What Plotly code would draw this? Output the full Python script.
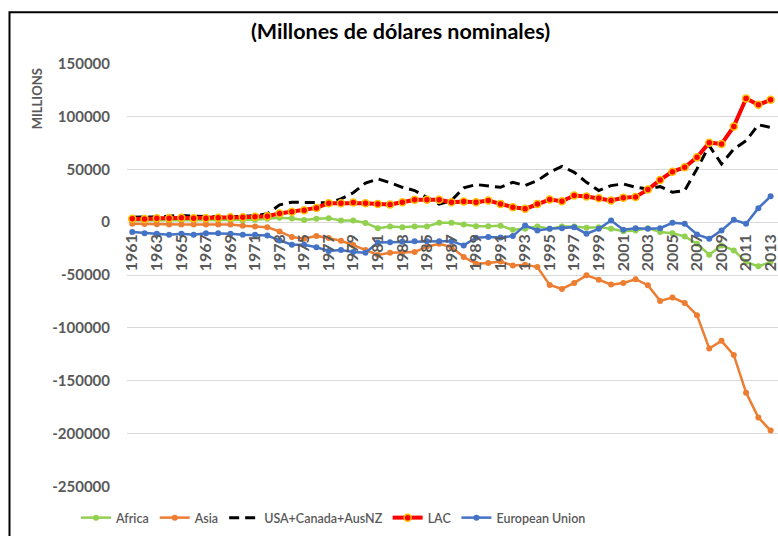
import plotly.graph_objects as go

years = list(range(1961, 2014))
tick_years = years[::2]
tick_labels = [str(y) for y in tick_years]
y_ticks = [150000, 100000, 50000, 0, -50000, -100000, -150000, -200000, -250000]
y_tick_labels = [str(v) for v in y_ticks]

africa = [1600, 1600, 1600, 1600, 1600, 1600, 1600, 1600, 1600, 1900,
          2200, 3200, 4100, 3500, 2000, 3200, 3800, 1600, 1600, -700,
          -5700, -4000, -4700, -4100, -4100, -600, -600, -2200, -3800, -3800,
          -3300, -7200, -6300, -4100, -6300, -4100, -4100, -5300, -4700, -6300,
          -8500, -7800, -5700, -9400, -10400, -13500, -20400, -30800, -22000, -26700,
          -37700, -41800, -37700]
asia = [-1500, -1800, -2000, -2200, -2200, -2200, -2200, -2200, -2200, -3500,
        -4100, -4700, -8800, -14100, -15700, -13000, -15100, -17600, -21700, -26400,
        -31000, -29000, -28700, -28300, -23200, -20500, -23600, -33000, -39300, -38700,
        -37200, -40900, -40200, -42500, -59400, -63200, -57500, -50300, -54400, -59100,
        -57500, -54000, -59700, -74500, -71300, -76400, -88000, -119500, -112300, -125800,
        -161300, -184900, -197200]
usa = [4700, 4700, 5000, 5700, 6300, 5700, 5000, 5000, 5000, 5500,
       6000, 7900, 16400, 18900, 18900, 18300, 18300, 22000, 27800, 37000,
       40900, 37400, 33000, 29900, 23600, 17000, 20500, 32400, 35600, 34600,
       33000, 37700, 34600, 39300, 47200, 52800, 47200, 37700, 29900, 34600,
       36200, 33000, 31500, 33700, 28300, 29900, 50400, 72400, 55100, 69200,
       77100, 92200, 89600]
lac = [3200, 2900, 3800, 3800, 4100, 3800, 3800, 4100, 4700, 4700,
       5100, 5700, 8200, 9800, 11300, 13500, 17900, 17900, 18600, 17900,
       17300, 16700, 18900, 21100, 21100, 21100, 18900, 19500, 18900, 20400,
       17300, 14200, 12600, 17300, 21400, 19800, 25200, 24200, 22700, 20500,
       23000, 23900, 30800, 40000, 47800, 51900, 61300, 75200, 74000, 90600,
       117000, 111000, 115800]
eu = [-9400, -10400, -11000, -11900, -11000, -11900, -10400, -10400, -11000, -11900,
      -11900, -12600, -17300, -21400, -21400, -23700, -27200, -26400, -28300, -29000,
      -19200, -18900, -18500, -18000, -18000, -18000, -18000, -22000, -14700, -14100,
      -14400, -13200, -3100, -7800, -6300, -5700, -4700, -11000, -6300, 1600,
      -7200, -5700, -6300, -5700, -600, -1500, -11600, -15700, -7800, 2200,
      -1500, 13200, 24500]

FONT = "Lato, 'Open Sans', sans-serif"
GRAY = "#595959"

fig = go.Figure()
fig.add_trace(go.Scatter(x=years, y=africa, name="Africa", mode="lines+markers",
                         line=dict(color="#92d050", width=2.5),
                         marker=dict(size=6, color="#92d050")))
fig.add_trace(go.Scatter(x=years, y=asia, name="Asia", mode="lines+markers",
                         line=dict(color="#ed7d31", width=2.5),
                         marker=dict(size=6, color="#ed7d31")))
fig.add_trace(go.Scatter(x=years, y=usa, name="USA+Canada+AusNZ", mode="lines",
                         line=dict(color="black", width=3, dash="10px,6px")))
fig.add_trace(go.Scatter(x=years, y=lac, name="LAC", mode="lines+markers",
                         line=dict(color="#ff0000", width=4),
                         marker=dict(size=7, color="#ff0000",
                                     line=dict(color="#ffc000", width=1.5))))
fig.add_trace(go.Scatter(x=years, y=eu, name="European Union", mode="lines+markers",
                         line=dict(color="#4472c4", width=2.5),
                         marker=dict(size=6, color="#4472c4")))

ymin, ymax = -250000, 150000
zero_pos = (0 - ymin) / (ymax - ymin)

fig.update_layout(
    width=778, height=536,
    margin=dict(l=127, r=0, t=63, b=49, autoexpand=False),
    paper_bgcolor="white", plot_bgcolor="white",
    font=dict(family=FONT, color=GRAY),
    title=dict(text="<b>(Millones de dólares nominales)</b>",
               x=400.5 / 778, xanchor="center", xref="container",
               y=1 - 31 / 536, yanchor="middle", yref="container",
               font=dict(family=FONT, size=21.5, color="black")),
    xaxis=dict(range=[years[0] - 0.43, years[0] + 52.6],
               tickmode="array", tickvals=tick_years, ticktext=tick_labels,
               tickangle=-90, showgrid=False, zeroline=False, showline=False,
               ticks="", anchor="free", position=zero_pos, automargin=False,
               ticklabelstandoff=8, ticklabeloverflow="allow",
               tickfont=dict(family=FONT, size=16, color=GRAY, weight="bold")),
    yaxis=dict(range=[ymin - 600, ymax + 600], domain=[0, 1], automargin=False,
               tickmode="array", tickvals=y_ticks, ticktext=y_tick_labels,
               showgrid=True, gridcolor="#d9d9d9", gridwidth=1,
               zeroline=False, showline=False, ticks="",
               ticklabelstandoff=16,
               tickfont=dict(family=FONT, size=15, color=GRAY, weight="bold")),
    legend=dict(orientation="h", x=76 / 778, xanchor="left", xref="container",
                y=1 - 518 / 536, yanchor="middle", yref="container",
                font=dict(family=FONT, size=12.5, color=GRAY, weight=600),
                itemwidth=30, tracegroupgap=0,
                bgcolor="rgba(0,0,0,0)"),
    showlegend=True,
)

fig.add_annotation(text="<b>MILLIONS</b>", xref="paper", yref="paper",
                   x=(37 - 127) / 651, y=(486.7 - 98) / 424,
                   xanchor="center", yanchor="middle", textangle=-90,
                   showarrow=False, font=dict(family=FONT, size=13, color=GRAY))

fig.add_shape(type="rect", xref="paper", yref="paper",
              x0=(9.5 - 127) / 651, x1=(790 - 127) / 651,
              y0=(486.7 - 545) / 424, y1=(486.7 - 12) / 424,
              line=dict(color="black", width=2), fillcolor="rgba(0,0,0,0)",
              layer="below")

fig.write_html("out.html", config={"displayModeBar": False},
               post_script="document.body.style.margin='0';document.body.style.overflow='hidden';")
